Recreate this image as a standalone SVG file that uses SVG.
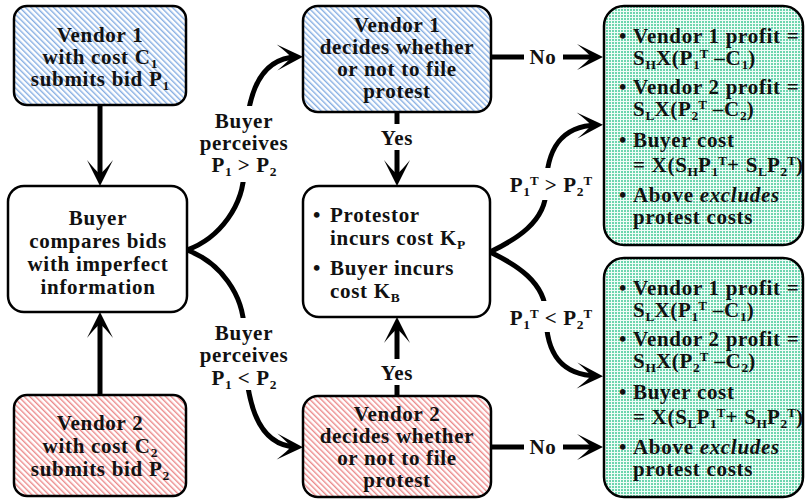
<svg xmlns="http://www.w3.org/2000/svg" width="806" height="499" viewBox="0 0 806 499">
<defs>
<style>
text{font-family:"Liberation Serif","Times New Roman",serif;font-weight:bold;font-size:21px;fill:#111;letter-spacing:0.7px}
.c{text-anchor:middle}
.sb{font-size:13.5px;letter-spacing:0}
.sp{font-size:13px;letter-spacing:0}
.box{stroke:#000;stroke-width:2.5}
.conn path{fill:none;stroke:#000;stroke-width:5;marker-end:url(#ah)}
</style>
<pattern id="blue" width="4" height="4" patternUnits="userSpaceOnUse" patternTransform="rotate(-45)">
<rect width="4" height="4" fill="#fff"/>
<rect width="1.4" height="4" fill="#86aee3"/>
</pattern>
<pattern id="red" width="4" height="4" patternUnits="userSpaceOnUse" patternTransform="rotate(-45)">
<rect width="4" height="4" fill="#fff"/>
<rect width="1.4" height="4" fill="#ec8a8b"/>
</pattern>
<pattern id="green" width="3" height="3" patternUnits="userSpaceOnUse">
<rect width="3" height="3" fill="#effcf7"/>
<rect width="2" height="2" fill="#6dd5ae"/>
</pattern>
<marker id="ah" viewBox="-22 -15 30 30" refX="0" refY="0" markerWidth="30" markerHeight="30" markerUnits="userSpaceOnUse" orient="auto" overflow="visible">
<path d="M6,0 L-20,-13 Q-9,-4 -6,0 Q-9,4 -20,13 Z" fill="#000"/>
</marker>
<mask id="gaps" maskUnits="userSpaceOnUse" x="0" y="0" width="806" height="499">
<rect width="806" height="499" fill="#fff"/>
<rect x="198" y="106" width="94" height="76" fill="#000"/>
<rect x="198" y="318" width="94" height="72" fill="#000"/>
<rect x="505" y="168" width="92" height="32" fill="#000"/>
<rect x="505" y="301" width="92" height="31" fill="#000"/>
<rect x="524" y="44" width="39" height="26" fill="#000"/>
<rect x="524" y="434" width="39" height="26" fill="#000"/>
<rect x="378" y="124" width="38" height="26" fill="#000"/>
<rect x="378" y="359" width="38" height="26" fill="#000"/>
</mask>
</defs>

<g id="connectors" class="conn" mask="url(#gaps)">
<path d="M100,105 L100,180"/>
<path d="M100,395 L100,318"/>
<path d="M187,250 C220,238 244,205 244,170 C244,100 256,58 297,57"/>
<path d="M187,250 C220,262 244,295 244,330 C244,400 256,446 297,447"/>
<path d="M397,112 L397,180"/>
<path d="M397,396 L397,323"/>
<path d="M491,57 L597,57"/>
<path d="M491,447 L597,447"/>
<path d="M490,252 C515,240 546,222 546,190 C546,150 560,126 597,125"/>
<path d="M490,252 C515,264 546,282 546,315 C546,352 560,375 597,376"/>
</g>

<g id="connector-labels">
<text class="c" x="244" y="128">Buyer</text>
<text class="c" x="244" y="150">perceives</text>
<text class="c" x="244" y="172">P<tspan class="sb" dy="4">1</tspan><tspan dy="-4"> &gt; P</tspan><tspan class="sb" dy="4">2</tspan></text>
<text class="c" x="244" y="340">Buyer</text>
<text class="c" x="244" y="362">perceives</text>
<text class="c" x="244" y="385">P<tspan class="sb" dy="4">1</tspan><tspan dy="-4"> &lt; P</tspan><tspan class="sb" dy="4">2</tspan></text>
<text class="c" x="551" y="192">P<tspan class="sb" dy="4">1</tspan><tspan class="sp" dy="-11">T</tspan><tspan dy="7"> &gt; P</tspan><tspan class="sb" dy="4">2</tspan><tspan class="sp" dy="-11">T</tspan></text>
<text class="c" x="551" y="325">P<tspan class="sb" dy="4">1</tspan><tspan class="sp" dy="-11">T</tspan><tspan dy="7"> &lt; P</tspan><tspan class="sb" dy="4">2</tspan><tspan class="sp" dy="-11">T</tspan></text>
<text class="c" x="543" y="64">No</text>
<text class="c" x="543" y="454">No</text>
<text class="c" x="397" y="145">Yes</text>
<text class="c" x="397" y="380">Yes</text>
</g>

<g id="vendor1">
<rect class="box" x="14" y="6" width="172" height="99" rx="13" fill="url(#blue)"/>
<text class="c" x="100" y="42">Vendor 1</text>
<text class="c" x="100" y="64">with cost C<tspan class="sb" dy="4">1</tspan></text>
<text class="c" x="100" y="86">submits bid P<tspan class="sb" dy="4">1</tspan></text>
</g>

<g id="buyer">
<rect class="box" x="8" y="186" width="179" height="126" rx="16" fill="#fff"/>
<text class="c" x="98" y="225">Buyer</text>
<text class="c" x="98" y="248">compares bids</text>
<text class="c" x="98" y="271">with imperfect</text>
<text class="c" x="98" y="294">information</text>
</g>

<g id="vendor2">
<rect class="box" x="14" y="395" width="172" height="101" rx="13" fill="url(#red)"/>
<text class="c" x="100" y="430">Vendor 2</text>
<text class="c" x="100" y="453">with cost C<tspan class="sb" dy="4">2</tspan></text>
<text class="c" x="100" y="476">submits bid P<tspan class="sb" dy="4">2</tspan></text>
</g>

<g id="vendor1-decides">
<rect class="box" x="303" y="6" width="188" height="106" rx="15" fill="url(#blue)"/>
<text class="c" x="397" y="32">Vendor 1</text>
<text class="c" x="397" y="54">decides whether</text>
<text class="c" x="397" y="76">or not to file</text>
<text class="c" x="397" y="98">protest</text>
</g>

<g id="protest-costs">
<rect class="box" x="303" y="186" width="187" height="131" rx="16" fill="#fff"/>
<text class="c" x="317" y="222">•</text>
<text x="330" y="222">Protestor</text>
<text x="330" y="245">incurs cost K<tspan class="sb" dy="4">P</tspan></text>
<text class="c" x="317" y="275">•</text>
<text x="330" y="275">Buyer incurs</text>
<text x="330" y="298">cost K<tspan class="sb" dy="4">B</tspan></text>
</g>

<g id="vendor2-decides">
<rect class="box" x="303" y="396" width="188" height="101" rx="15" fill="url(#red)"/>
<text class="c" x="397" y="421">Vendor 2</text>
<text class="c" x="397" y="443">decides whether</text>
<text class="c" x="397" y="465">or not to file</text>
<text class="c" x="397" y="487">protest</text>
</g>

<g id="outcome-1-wins">
<rect class="box" x="604" y="6" width="199" height="239" rx="20" fill="url(#green)"/>
<text class="c" x="623" y="43">•</text>
<text x="633" y="43">Vendor 1 profit =</text>
<text x="633" y="65">S<tspan class="sb" dy="4">H</tspan><tspan dy="-4">X(P</tspan><tspan class="sb" dy="4">1</tspan><tspan class="sp" dy="-11">T</tspan><tspan dy="7"> –C</tspan><tspan class="sb" dy="4">1</tspan><tspan dy="-4">)</tspan></text>
<text class="c" x="623" y="94">•</text>
<text x="633" y="94">Vendor 2 profit =</text>
<text x="633" y="116">S<tspan class="sb" dy="4">L</tspan><tspan dy="-4">X(P</tspan><tspan class="sb" dy="4">2</tspan><tspan class="sp" dy="-11">T</tspan><tspan dy="7"> –C</tspan><tspan class="sb" dy="4">2</tspan><tspan dy="-4">)</tspan></text>
<text class="c" x="623" y="147">•</text>
<text x="633" y="147">Buyer cost</text>
<text x="633" y="172">= X(S<tspan class="sb" dy="4">H</tspan><tspan dy="-4">P</tspan><tspan class="sb" dy="4">1</tspan><tspan class="sp" dy="-11">T</tspan><tspan dy="7">+ S</tspan><tspan class="sb" dy="4">L</tspan><tspan dy="-4">P</tspan><tspan class="sb" dy="4">2</tspan><tspan class="sp" dy="-11">T</tspan><tspan dy="7">)</tspan></text>
<text class="c" x="623" y="202">•</text>
<text x="633" y="202">Above <tspan font-style="italic">excludes</tspan></text>
<text x="633" y="224">protest costs</text>
</g>

<g id="outcome-2-wins">
<rect class="box" x="604" y="258" width="199" height="239" rx="20" fill="url(#green)"/>
<text class="c" x="623" y="295">•</text>
<text x="633" y="295">Vendor 1 profit =</text>
<text x="633" y="317">S<tspan class="sb" dy="4">L</tspan><tspan dy="-4">X(P</tspan><tspan class="sb" dy="4">1</tspan><tspan class="sp" dy="-11">T</tspan><tspan dy="7"> –C</tspan><tspan class="sb" dy="4">1</tspan><tspan dy="-4">)</tspan></text>
<text class="c" x="623" y="346">•</text>
<text x="633" y="346">Vendor 2 profit =</text>
<text x="633" y="368">S<tspan class="sb" dy="4">H</tspan><tspan dy="-4">X(P</tspan><tspan class="sb" dy="4">2</tspan><tspan class="sp" dy="-11">T</tspan><tspan dy="7"> –C</tspan><tspan class="sb" dy="4">2</tspan><tspan dy="-4">)</tspan></text>
<text class="c" x="623" y="399">•</text>
<text x="633" y="399">Buyer cost</text>
<text x="633" y="424">= X(S<tspan class="sb" dy="4">L</tspan><tspan dy="-4">P</tspan><tspan class="sb" dy="4">1</tspan><tspan class="sp" dy="-11">T</tspan><tspan dy="7">+ S</tspan><tspan class="sb" dy="4">H</tspan><tspan dy="-4">P</tspan><tspan class="sb" dy="4">2</tspan><tspan class="sp" dy="-11">T</tspan><tspan dy="7">)</tspan></text>
<text class="c" x="623" y="454">•</text>
<text x="633" y="454">Above <tspan font-style="italic">excludes</tspan></text>
<text x="633" y="476">protest costs</text>
</g>
</svg>
